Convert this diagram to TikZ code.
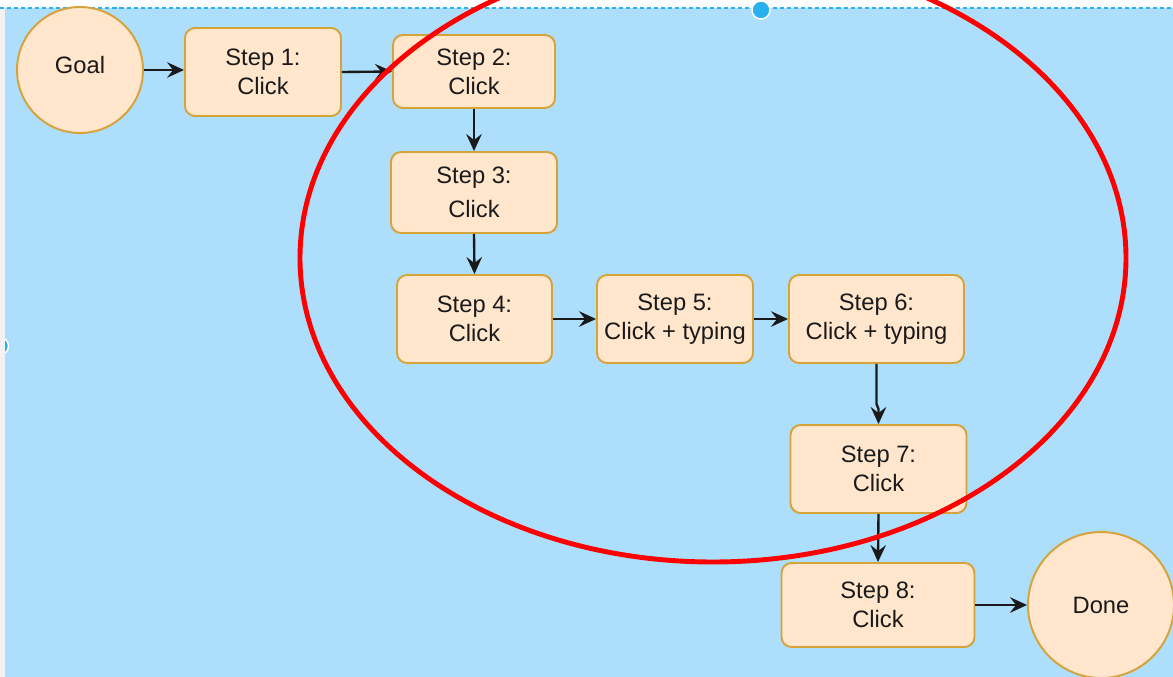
\documentclass[tikz,border=0pt]{standalone}
\usepackage{fontspec}
\setmainfont{Liberation Sans}
\usepackage{tikz}
\usetikzlibrary{arrows.meta, positioning}
\definecolor{flowBg}{HTML}{ADDFFD}
\definecolor{flowFill}{HTML}{FFE6CC}
\definecolor{flowLine}{HTML}{D6A23A}
\definecolor{flowEdge}{HTML}{1A1A1A}
\definecolor{flowRed}{HTML}{FF0000}
\definecolor{flowHandle}{HTML}{29B0F0}
\definecolor{flowGray}{HTML}{F2F2F2}

\begin{document}
\begin{tikzpicture}[
    stepbox/.style = {draw = flowLine, fill = flowFill, line width = 1.1pt, rounded corners = 0.2cm,
      align = center, text = flowEdge, font = \fontsize{13.5}{16.5}\selectfont, inner sep = 0pt},
    endpoint/.style = {draw = flowLine, fill = flowFill, line width = 1.1pt, circle,
      text = flowEdge, font = \fontsize{13.5}{16.5}\selectfont, inner sep = 0pt},
    flow/.style = {draw = flowEdge, line width = 1.35pt,
      -{Stealth[length = 0.34cm, width = 0.31cm, inset = 0.12cm]}}
  ]
  \def\picW{23.46}
  \def\picH{13.54}
  \def\boxH{1.76}
  \def\lineY{0.16}

  % ------------------------
  % canvas
  % ------------------------
  \useasboundingbox (0, 0) rectangle (\picW, -\picH);
  \clip (0, 0) rectangle (\picW, -\picH);
  \fill[white] (0, 0) rectangle (\picW, -\picH);
  \fill[flowBg] (0, -\lineY) rectangle (\picW, -\picH);
  \filldraw[fill = flowHandle, draw = white, line width = 0.8pt] (0.0, -6.92) circle (0.17);
  \fill[flowGray] (0, -\lineY) rectangle (0.1, -\picH);
  \draw[flowHandle, line width = 0.6pt, dash pattern = on 2.3pt off 1.7pt] (0, -\lineY) -- (\picW, -\lineY);
  \filldraw[fill = flowHandle, draw = white, line width = 0.8pt] (15.22, -0.20) circle (0.18);

  % ------------------------
  % steps
  % ------------------------
  \coordinate (cGoal) at (1.60, -1.40);
  \coordinate (cS1) at (5.26, -1.44);
  \coordinate (cS2) at (9.48, -1.43);
  \coordinate (cS3) at (9.48, -3.85);
  \coordinate (cS4) at (9.49, -6.38);
  \coordinate (cS5) at (13.50, -6.38);
  \coordinate (cS6) at (17.53, -6.38);
  \coordinate (cS7) at (17.57, -9.38);
  \coordinate (cS8) at (17.56, -12.10);
  \coordinate (cDone) at (22.02, -12.10);

  \node[endpoint, minimum size = 2.52cm] (Goal) at (cGoal) {\raisebox{0.2cm}{Goal}};
  \node[stepbox, minimum width = 3.12cm, minimum height = \boxH cm] (S1) at (cS1) {Step 1:\\Click};
  \node[stepbox, minimum width = 3.24cm, minimum height = 1.46cm] (S2) at (cS2) {Step 2:\\Click};
  \node[stepbox, minimum width = 3.32cm, minimum height = 1.62cm] (S3) at (cS3) {Step 3:\\[3pt]Click};
  \node[stepbox, minimum width = 3.10cm, minimum height = \boxH cm] (S4) at (cS4) {Step 4:\\Click};
  \node[stepbox, minimum width = 3.12cm, minimum height = \boxH cm] (S5) at (cS5) {Step 5:\\Click + typing};
  \node[stepbox, minimum width = 3.50cm, minimum height = \boxH cm] (S6) at (cS6) {Step 6:\\Click + typing};
  \node[stepbox, minimum width = 3.52cm, minimum height = \boxH cm] (S7) at (cS7) {Step 7:\\Click};
  \node[stepbox, minimum width = 3.86cm, minimum height = 1.68cm] (S8) at (cS8) {Step 8:\\Click};
  \node[endpoint, minimum size = 2.92cm] (Done) at (cDone) {Done};

  % ------------------------
  % connectors
  % ------------------------
  \draw[flow] (Goal.east) -- (Goal.east -| S1.west);
  \draw[flow] (S1.east) -- (S2.west);
  \draw[flow] (S2.south) -- (S3.north);
  \draw[flow] (S3.south) -- (S4.north);
  \draw[flow] (S4.east) -- (S5.west);
  \draw[flow] (S5.east) -- (S6.west);
  \draw[flow] (S6.south) -- ++(0, -0.80) -- ++(0.04, -0.10) -- (S7.north);
  \draw[flow] (S7.south) -- (S8.north);
  \draw[flow] (S8.east) -- (Done.west);

  % red mark round steps 2 to 7
  \draw[flowRed, line width = 2.8pt] (14.26, -5.16) ellipse [x radius = 8.26, y radius = 6.08];
\end{tikzpicture}
\end{document}
